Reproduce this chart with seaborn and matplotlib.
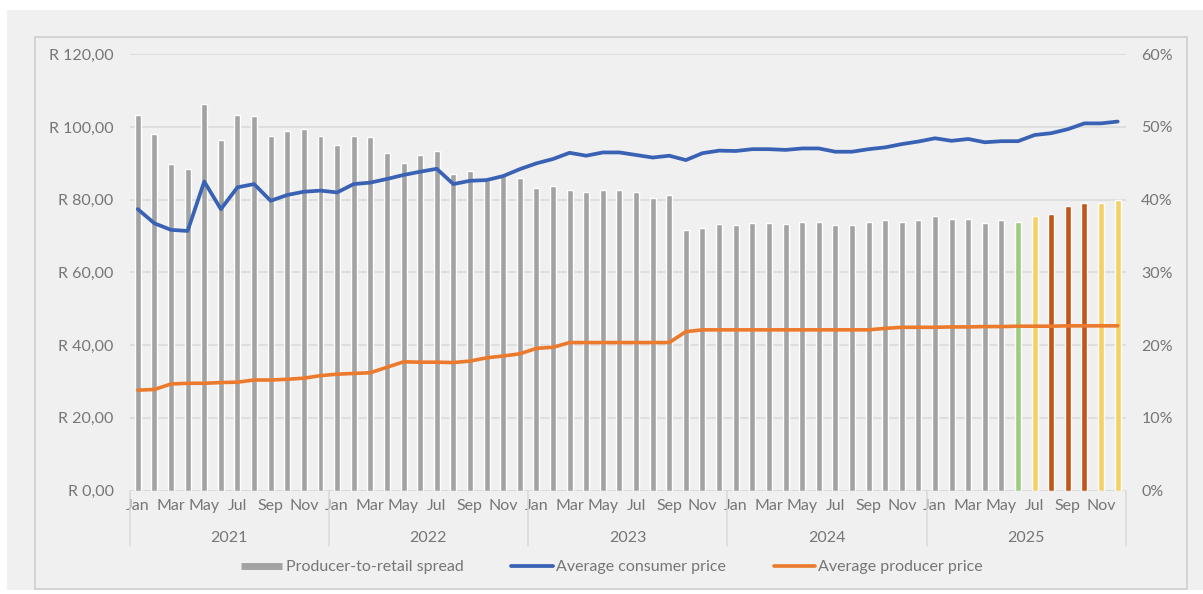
import numpy as np
import pandas as pd
import matplotlib
matplotlib.use("Agg")
import matplotlib.pyplot as plt
from matplotlib.lines import Line2D
from matplotlib.patches import Rectangle
from matplotlib.transforms import blended_transform_factory
from matplotlib.ticker import FuncFormatter
import seaborn as sns

# ---- data -------------------------------------------------------------
years = ["2021", "2022", "2023", "2024", "2025"]
months = ["Jan", "Feb", "Mar", "Apr", "May", "Jun",
          "Jul", "Aug", "Sep", "Oct", "Nov", "Dec"]

# producer-to-retail spread, % (right axis)
spread = [
    51.6, 49.1, 44.9, 44.2, 53.2, 48.2, 51.6, 51.5, 48.7, 49.5, 49.7, 48.7,
    47.5, 48.8, 48.6, 46.4, 45.0, 46.1, 46.7, 43.5, 43.9, 42.7, 43.2, 43.0,
    41.6, 41.9, 41.3, 41.0, 41.3, 41.4, 41.0, 40.2, 40.6, 35.9, 36.1, 36.7,
    36.5, 36.8, 36.8, 36.6, 36.9, 36.9, 36.5, 36.5, 36.9, 37.2, 36.9, 37.2,
    37.7, 37.3, 37.4, 36.8, 37.2, 36.9, 37.7, 38.1, 39.1, 39.6, 39.6, 40.0,
]

# average consumer price, Rand (left axis)
consumer = [
    77.4, 73.5, 71.7, 71.4, 85.0, 77.4, 83.4, 84.3, 79.7, 81.3, 82.2, 82.5,
    82.0, 84.3, 84.7, 85.7, 86.8, 87.7, 88.5, 84.3, 85.2, 85.4, 86.5, 88.4,
    90.0, 91.2, 92.9, 92.1, 93.0, 93.0, 92.3, 91.6, 92.1, 90.9, 92.8, 93.5,
    93.4, 93.9, 93.9, 93.7, 94.1, 94.1, 93.2, 93.2, 93.9, 94.4, 95.3, 96.0,
    96.9, 96.2, 96.7, 95.8, 96.1, 96.1, 97.8, 98.3, 99.4, 101.0, 101.0, 101.5,
]

# average producer price, Rand (left axis)
producer = [
    27.6, 27.8, 29.3, 29.5, 29.5, 29.7, 29.8, 30.4, 30.4, 30.6, 30.9, 31.6,
    32.0, 32.2, 32.4, 33.9, 35.4, 35.3, 35.3, 35.2, 35.6, 36.5, 37.0, 37.6,
    39.1, 39.4, 40.7, 40.7, 40.7, 40.7, 40.7, 40.7, 40.7, 43.7, 44.2, 44.2,
    44.2, 44.2, 44.2, 44.2, 44.2, 44.2, 44.2, 44.2, 44.2, 44.6, 44.9, 44.9,
    44.9, 45.0, 45.0, 45.1, 45.1, 45.2, 45.2, 45.2, 45.3, 45.3, 45.3, 45.3,
]

# bar colour groups: actual months, then highlighted 2025 months
GREY, GREEN, YELLOW, RUST = "#a3a3a3", "#9fcb7f", "#f5cf68", "#c0571a"
bar_groups = ["grey"] * 53 + ["green", "yellow", "rust", "rust", "rust",
                               "yellow", "yellow"]
group_colors = {"grey": GREY, "green": GREEN, "yellow": YELLOW, "rust": RUST}

BLUE = "#3a62b4"
ORANGE = "#ec7a2c"

# ---- style ------------------------------------------------------------
sns.set_theme(style="white")
plt.rcParams["font.family"] = ["Lato", "DejaVu Sans"]
TXT = "#767676"
GRID = "#d9d9d9"
BG = "#f0f0f0"
FS = 11.5

periods = [f"{y}-{m}" for y in years for m in months]
df = pd.DataFrame({
    "period": periods,
    "pos": np.arange(len(periods)),
    "spread": spread,
    "consumer": consumer,
    "producer": producer,
    "group": bar_groups,
})
palette = {p: group_colors[g] for p, g in zip(df["period"], df["group"])}

fig = plt.figure(figsize=(12.03, 5.94), dpi=100, facecolor="white")
# panel background and frame
fig.patches.append(Rectangle((7 / 1203, 4 / 594), 1.0, 580 / 594,
                             transform=fig.transFigure, facecolor=BG,
                             edgecolor="none", zorder=-10))
fig.patches.append(Rectangle((35 / 1203, 5 / 594), 1152 / 1203, 552 / 594,
                             transform=fig.transFigure, facecolor="none",
                             edgecolor="#cfcfcf", lw=1.2, zorder=-9))

left, right = 129.5 / 1203, 1126 / 1203
bottom, top = 1 - 490.5 / 594, 1 - 54.3 / 594
ax = fig.add_axes([left, bottom, right - left, top - bottom])
ax.set_facecolor("none")

# bars: spread on the percentage axis (shown on the right)
sns.barplot(data=df, x="period", y="spread", hue="period", palette=palette,
            order=periods, hue_order=periods, legend=False, width=0.36,
            saturation=1, ax=ax, zorder=2)
ax.set_ylim(0, 60)
ax.set_xlim(-0.5, len(periods) - 0.5)
ax.set_xlabel("")
ax.set_ylabel("")
ax.grid(axis="y", color=GRID, lw=1.1, zorder=0)
ax.set_axisbelow(True)
for s in ax.spines.values():
    s.set_visible(False)
ax.axhline(0, color=GRID, lw=1.1, zorder=1)

# lines: prices on the Rand axis (shown on the left)
ax2 = ax.twinx()
ax2.set_facecolor("none")
sns.lineplot(data=df, x="pos", y="consumer", color=BLUE, lw=2.7, ax=ax2,
             zorder=4)
sns.lineplot(data=df, x="pos", y="producer", color=ORANGE, lw=2.6, ax=ax2,
             zorder=3)
ax2.set_ylim(0, 120)
ax2.set_xlabel("")
ax2.set_ylabel("")
ax2.grid(False)
for s in ax2.spines.values():
    s.set_visible(False)

# axis sides: percentages right, Rand left
ax.yaxis.tick_right()
ax.yaxis.set_label_position("right")
ax.set_yticks(np.arange(0, 61, 10))
ax.yaxis.set_major_formatter(FuncFormatter(lambda v, _: f"{v:.0f}%"))
ax2.yaxis.tick_left()
ax2.yaxis.set_label_position("left")
ax2.set_yticks(np.arange(0, 121, 20))
ax2.yaxis.set_major_formatter(
    FuncFormatter(lambda v, _: f"R {v:.2f}".replace(".", ",")))

ax.tick_params(axis="y", length=0, pad=11, labelsize=FS, labelcolor=TXT,
               left=False, labelleft=False, right=False, labelright=True)
ax2.tick_params(axis="y", length=0, pad=11.5, labelsize=FS, labelcolor=TXT,
                right=False, labelright=False, left=False, labelleft=True)

# month ticks every second month
ax.set_xticks(np.arange(0, len(periods), 2))
ax.set_xticklabels([months[i % 12] for i in range(0, len(periods), 2)])
ax.tick_params(axis="x", length=0, pad=6, labelsize=FS, labelcolor=TXT)

# year labels and separators below the month row
trans = blended_transform_factory(ax.transData, fig.transFigure)
for k, yr in enumerate(years):
    ax.text(k * 12 + 5.5, 1 - 538 / 594, yr, transform=trans, ha="center",
            va="center", fontsize=FS, color=TXT)
for k in range(len(years) + 1):
    x = k * 12 - 0.5
    ax.add_line(Line2D([x, x], [1 - 491 / 594, 1 - 546 / 594],
                       transform=trans, color=GRID, lw=1.1, clip_on=False))

# legend
handles = [Line2D([], [], color=GREY, lw=5, solid_capstyle="butt"),
           Line2D([], [], color=BLUE, lw=2.7),
           Line2D([], [], color=ORANGE, lw=2.6)]
labels = ["Producer-to-retail spread", "Average consumer price",
          "Average producer price"]
leg = fig.legend(handles, labels, loc="center", ncol=3, frameon=False,
                 bbox_to_anchor=(612 / 1203, 1 - 567 / 594), fontsize=FS,
                 handlelength=2.6, handletextpad=0.2, columnspacing=3.0)
for t in leg.get_texts():
    t.set_color(TXT)

fig.savefig("out.png", dpi=100, facecolor="white")
